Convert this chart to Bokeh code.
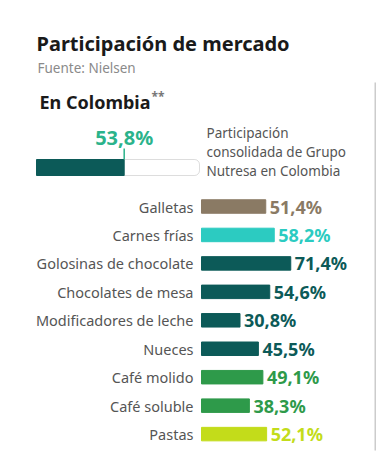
from bokeh.plotting import figure
from bokeh.models import Range1d, ColumnDataSource, BoxAnnotation
from bokeh.core.properties import value
from bokeh.embed import file_html
from bokeh.resources import INLINE

# ---- data ----
categories = ["Galletas", "Carnes frías", "Golosinas de chocolate", "Chocolates de mesa",
              "Modificadores de leche", "Nueces", "Café molido", "Café soluble", "Pastas"]
shares = [51.4, 58.2, 71.4, 54.6, 30.8, 45.5, 49.1, 38.3, 52.1]
share_labels = ["51,4%", "58,2%", "71,4%", "54,6%", "30,8%", "45,5%", "49,1%", "38,3%", "52,1%"]
colors = ["#8a7a64", "#2ccbc1", "#0c5a58", "#0c5a58", "#0c5a58", "#0c5a58",
          "#2e9a4a", "#2e9a4a", "#c3dc1a"]
total_share = [53.8]
total_label = ["53,8%"]
note_lines = ["Participación", "consolidada de Grupo", "Nutresa en Colombia"]

# ---- layout constants (canvas pixels) ----
W, H = 376, 454
FONT = "Noto Sans"
BAR_ORIGIN = 201      # canvas x of 0 % for category bars
PX_PER_PCT = 1.25
ROW0, STEP = 206.0, 28.45
BAR_H = 13.5
SUM_X0, SUM_W = 36, 163   # summary bar: 0% .. 100%

p = figure(width=W, height=H, output_backend="svg", toolbar_location=None,
           x_range=Range1d(-BAR_ORIGIN / PX_PER_PCT, (W - BAR_ORIGIN) / PX_PER_PCT),
           y_range=Range1d((H - ROW0) / STEP, -ROW0 / STEP),
           min_border=0, outline_line_color=None, background_fill_color="white",
           border_fill_color="white")
p.axis.visible = False
p.grid.visible = False
p.extra_x_ranges = {"px": Range1d(0, W),
                    "sum": Range1d(-SUM_X0 / SUM_W * 100, (W - SUM_X0) / SUM_W * 100)}
p.extra_y_ranges = {"px": Range1d(H, 0)}

# ---- category bars ----
rows = list(range(len(categories)))
src = ColumnDataSource(dict(y=rows, v=shares, cat=categories, lab=share_labels, c=colors,
                            zero=[0] * len(rows)))
p.hbar(y="y", left="zero", right="v", height=BAR_H / STEP, color="c", source=src)
p.text(x="zero", y="y", text="cat", source=src, x_offset=-8, text_align="right",
       text_baseline="middle", text_font=value(FONT), text_font_size="14.5px",
       text_color="#555555")
p.text(x="v", y="y", text="lab", source=src, x_offset=4, text_align="left",
       text_baseline="middle", text_font=value(FONT), text_font_size="18px",
       text_font_style="bold", text_color="c")

# ---- header texts ----
def ptext(x, y, t, size, color, bold=False, align="left"):
    p.text(x=[x], y=[y], text=[t], x_range_name="px", y_range_name="px",
           text_font=value(FONT), text_font_size=size, text_color=color,
           text_font_style="bold" if bold else "normal", text_align=align,
           text_baseline="middle")

ptext(36, 43, "Participación de mercado", "20px", "#1a1a1a", bold=True)
ptext(37, 67, "Fuente: Nielsen", "13.5px", "#8a8a8a")
ptext(39, 101, "En Colombia", "18px", "#1a1a1a", bold=True)
ptext(151, 96, "**", "12px", "#777777", bold=True)
for i, line in enumerate(note_lines):
    ptext(206, 132 + 19.3 * i, line, "13.5px", "#555555")

# ---- summary bar ----
box = BoxAnnotation(left=0, right=100, top=159, bottom=175, x_range_name="sum",
                    y_range_name="px", fill_color="white", fill_alpha=1.0,
                    line_color="#8f8f8f", line_width=1, border_radius=5, level="underlay")
p.add_layout(box)
sum_src = ColumnDataSource(dict(v=total_share, lab=total_label, zero=[0],
                                top=[159], bot=[175], tick0=[148], lab_y=[137]))
p.quad(left="zero", right="v", top="top", bottom="bot", source=sum_src, color="#0c5a58",
       x_range_name="sum", y_range_name="px")
p.segment(x0="v", x1="v", y0="tick0", y1="top", source=sum_src, line_color="#2bb38b",
          line_width=1.5, x_range_name="sum", y_range_name="px")
p.text(x="v", y="lab_y", text="lab", source=sum_src, x_range_name="sum", y_range_name="px",
       text_align="center", text_baseline="middle", text_font=value(FONT),
       text_font_size="20px", text_font_style="bold", text_color="#2bb38b")

# ---- right divider ----
p.segment(x0=[375], x1=[375], y0=[82], y1=[450], line_color="#cccccc", line_width=2,
          x_range_name="px", y_range_name="px")

open("out.html", "w").write(file_html(p, INLINE))
